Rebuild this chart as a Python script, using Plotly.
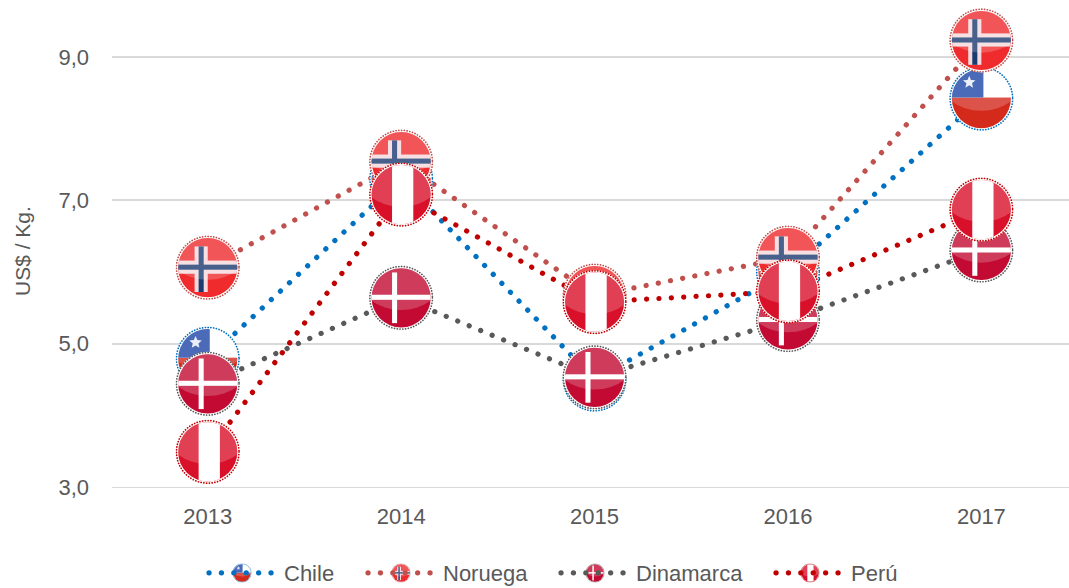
import base64
import math
import plotly.graph_objects as go

years = [2013, 2014, 2015, 2016, 2017]
series_names = ["Chile", "Noruega", "Dinamarca", "Perú"]
chile = [4.79, 7.30, 4.50, 6.00, 8.42]
noruega = [6.06, 7.54, 5.67, 6.20, 9.23]
dinamarca = [4.44, 5.64, 4.53, 5.33, 6.30]
peru = [3.49, 7.08, 5.58, 5.73, 6.87]
line_colors = ["#0070C0", "#C0504D", "#595959", "#C00000"]
y_ticks = [3, 5, 7, 9]
y_labels = ["3,0", "5,0", "7,0", "9,0"]
FONT = "Liberation Sans, Arial, sans-serif"
GREY = "#595959"
W, H = 1069, 588


def star(cx, cy, r):
    pts = []
    for i in range(10):
        rad = r if i % 2 == 0 else r * 0.45
        a = -math.pi / 2 + i * math.pi / 5
        pts.append(f"{cx + rad * math.cos(a):.2f},{cy + rad * math.sin(a):.2f}")
    return f'<polygon points="{" ".join(pts)}" fill="#E8ECF6"/>'


flag_bodies = {
    "Chile": '<rect width="64" height="64" fill="#fff"/><rect y="31" width="64" height="33" fill="#D42A1C"/>'
             '<rect x="0" y="0" width="34" height="31" fill="#1F47A8"/>' + star(20, 16, 6.5),
    "Noruega": '<rect width="64" height="64" fill="#EF2B2D"/>'
               '<rect x="19" y="11" width="13" height="45" fill="#F4D9DC"/><rect y="25" width="64" height="13" fill="#F4D9DC"/>'
               '<rect x="23" y="11" width="5" height="45" fill="#1B3A70"/><rect y="29" width="64" height="5" fill="#1B3A70"/>',
    "Dinamarca": '<rect width="64" height="64" fill="#C20A32"/>'
                 '<rect x="23" y="7" width="5" height="50" fill="#fff"/><rect y="29" width="64" height="5" fill="#fff"/>',
    "Perú": '<rect width="64" height="64" fill="#D9102A"/><rect x="23" width="21" height="64" fill="#fff"/>',
}


def flag_uri(name, color):
    svg = (
        '<svg xmlns="http://www.w3.org/2000/svg" width="256" height="256" viewBox="0 0 64 64">'
        '<defs><clipPath id="c"><circle cx="32" cy="32" r="29.2"/></clipPath></defs>'
        '<circle cx="32" cy="32" r="31.5" fill="#fff"/>'
        f'<g clip-path="url(#c)">{flag_bodies[name]}'
        '<ellipse cx="32" cy="11" rx="42" ry="33" fill="#fff" opacity="0.2"/></g>'
        f'<circle cx="32" cy="32" r="30.9" fill="none" stroke="{color}" stroke-width="1.7" '
        'stroke-linecap="round" stroke-dasharray="0.1 2.65"/></svg>'
    )
    return "data:image/svg+xml;base64," + base64.b64encode(svg.encode()).decode()


fig = go.Figure()
images = []
all_values = [chile, noruega, dinamarca, peru]
legend_keys = ["legend", "legend2", "legend3", "legend4"]
for name, vals, col, key in zip(series_names, all_values, line_colors, legend_keys):
    fig.add_trace(go.Scatter(
        x=years, y=vals, name=name, mode="lines", legend=key,
        line=dict(color=col, width=5.2, dash="0.1px,12.3px", shape="linear"),
    ))
    uri = flag_uri(name, col)
    for x, y in zip(years, vals):
        images.append(dict(source=uri, xref="x", yref="y", x=x, y=y,
                           sizex=0.335, sizey=0.905, sizing="stretch",
                           xanchor="center", yanchor="middle", layer="above"))

legend_icon_px = [242, 401, 595, 810]
for name, col, px in zip(series_names, line_colors, legend_icon_px):
    images.append(dict(source=flag_uri(name, col), xref="paper", yref="paper",
                       x=(px - 112) / 957, y=-86 / 487, sizex=19 / 957, sizey=19 / 487,
                       sizing="stretch", xanchor="center", yanchor="middle", layer="above"))

legend_left_px = [204, 363, 556, 771]
legends = {
    key: dict(orientation="h", xref="container", yref="container", xanchor="left", yanchor="middle",
              x=px / W, y=1 - 573 / H, itemwidth=70, font=dict(family=FONT, size=22, color=GREY),
              bgcolor="rgba(0,0,0,0)")
    for key, px in zip(legend_keys, legend_left_px)
}

fig.update_layout(
    width=W, height=H,
    margin=dict(l=112, r=0, t=0, b=101, pad=0),
    paper_bgcolor="#fff", plot_bgcolor="#fff",
    font=dict(family=FONT, size=22, color=GREY),
    images=images,
    showlegend=True,
    xaxis=dict(range=[2012.505, 2017.453], tickvals=years, ticktext=[str(v) for v in years],
               showgrid=False, zeroline=False, showline=True, linecolor="#D9D9D9", linewidth=1,
               ticks="", ticklabelstandoff=10, tickfont=dict(family=FONT, size=22, color=GREY)),
    yaxis=dict(range=[3, 9.795], tickvals=y_ticks, ticktext=y_labels,
               showgrid=True, gridcolor="#D9D9D9", gridwidth=2, zeroline=False, showline=False,
               ticks="", ticklabelstandoff=22, tickfont=dict(family=FONT, size=22, color=GREY)),
    annotations=[dict(text="US$ / Kg.", xref="paper", yref="paper", x=(23 - 112) / 957, y=(487 - 251) / 487,
                      textangle=-90, showarrow=False, xanchor="center", yanchor="middle",
                      font=dict(family=FONT, size=21, color=GREY))],
    **legends,
)
css = """var s=document.createElement('style');
s.textContent='body{margin:0} .js-line{stroke-linecap:round}';document.head.appendChild(s);"""
fig.write_html("out.html", post_script=css, config={"displayModeBar": False})
